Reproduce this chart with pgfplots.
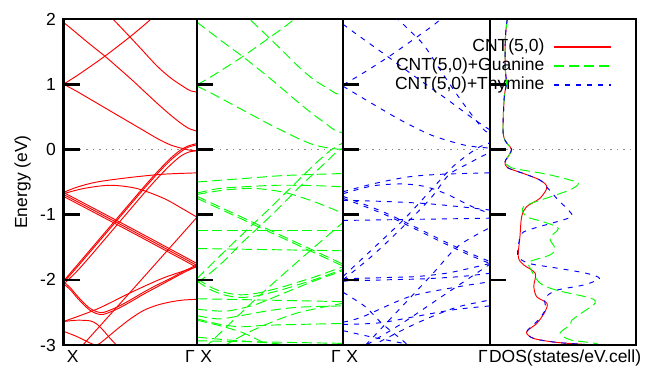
\documentclass[border=0pt]{standalone}
\usepackage{fontspec}
\setmainfont{Liberation Sans}
\usepackage{pgfplots}
\pgfplotsset{compat=1.18}
\newcommand\fs{\fontsize{17.5}{20}\selectfont}
\definecolor{zgray}{RGB}{140,140,140}
\definecolor{cred}{RGB}{255,0,0}
\definecolor{cgreen}{RGB}{0,255,0}
\definecolor{cblue}{RGB}{0,0,255}
\pgfplotsset{
  bandax/.style={scale only axis, height=326pt, anchor=south west,
    xmin=0, xmax=1, ymin=-3, ymax=2,
    axis line style={line width=2.6pt},
    ytick={-3,-2,-1,0,1,2}, ytick pos=left, tick align=inside,
    major tick length=16pt, tick style={line width=2.6pt, black},
    xtick=\empty, yticklabels={}, axis on top, clip=true},
  rb/.style={color=cred, line width=0.95pt, smooth},
  gb/.style={color=cgreen, line width=0.95pt, dash pattern=on 10pt off 5pt, smooth},
  bb/.style={color=cblue, line width=0.95pt, dash pattern=on 5pt off 6pt, smooth},
  zl/.style={color=zgray, line width=1.4pt, dash pattern=on 1.5pt off 5pt, forget plot},
}
\begin{document}
\begin{tikzpicture}
\path[use as bounding box] (0pt,0pt) rectangle (646pt,368pt);
% ---------------- Panel 1 : CNT(5,0)
\begin{axis}[bandax, at={(63.5pt,23pt)}, width=133.5pt,
  yticklabels={-3,-2,-1,0,1,2},
  yticklabel style={font=\fs, anchor=east, inner sep=0pt, xshift=-7.5pt},
  ylabel={Energy (eV)},
  ylabel style={at={(axis description cs:-0.307,0.5)}, anchor=center, font=\fs, inner sep=0pt},
  after end axis/.code={
    \node[font=\fs, inner sep=0pt, anchor=north west, xshift=3.2pt, yshift=-5pt] at (rel axis cs:0,0) {X};
    \node[font=\fs, inner sep=0pt, anchor=north east, xshift=-2pt, yshift=-5pt] at (rel axis cs:1,0) {Γ};
  }]
\addplot[zl] coordinates {(0.12,0) (1,0)};
\addplot[rb] coordinates {(0,1.0) (0.1,1.13) (0.2,1.27) (0.31,1.43) (0.4,1.57) (0.5,1.73) (0.6,1.9) (0.7,2.08) (0.8,2.27)};
\addplot[rb] coordinates {(0,1.95) (0.1,1.78) (0.2,1.61) (0.31,1.43) (0.4,1.27) (0.5,1.09) (0.6,0.9) (0.7,0.71) (0.8,0.53) (0.88,0.4) (0.94,0.32) (1,0.28)};
\addplot[rb] coordinates {(0.3,2.15) (0.37,2.0) (0.5,1.72) (0.6,1.5) (0.7,1.28) (0.8,1.1) (0.9,0.96) (0.95,0.9) (1,0.88)};
\addplot[rb] coordinates {(0,1.0) (0.1,0.89) (0.2,0.77) (0.3,0.65) (0.4,0.53) (0.5,0.41) (0.6,0.29) (0.7,0.17) (0.8,0.07) (0.88,0.02) (0.94,-0.01) (1,-0.02)};
\addplot[rb] coordinates {(0,-2.02) (0.1,-1.78) (0.2,-1.54) (0.3,-1.3) (0.4,-1.06) (0.5,-0.82) (0.6,-0.58) (0.7,-0.35) (0.8,-0.14) (0.87,-0.02) (0.93,0.05) (1,0.09)};
\addplot[rb] coordinates {(0,-2.04) (0.1,-1.81) (0.2,-1.57) (0.3,-1.33) (0.4,-1.09) (0.5,-0.85) (0.6,-0.61) (0.7,-0.38) (0.8,-0.17) (0.87,-0.05) (0.93,0.03) (1,0.07)};
\addplot[rb] coordinates {(0,-2.07) (0.1,-1.87) (0.2,-1.64) (0.3,-1.4) (0.4,-1.16) (0.5,-0.92) (0.6,-0.68) (0.7,-0.45) (0.8,-0.24) (0.88,-0.1) (0.94,-0.04) (1,-0.02)};
\addplot[rb] coordinates {(0,-0.66) (0.1,-0.58) (0.25,-0.5) (0.5,-0.43) (0.75,-0.38) (1,-0.36)};
\addplot[rb] coordinates {(0,-0.68) (0.15,-0.6) (0.35,-0.55) (0.55,-0.6) (0.75,-0.75) (0.9,-0.92) (1,-1.04)};
\addplot[rb] coordinates {(0,-0.66) (0.5,-1.2) (1,-1.75)};
\addplot[rb] coordinates {(0,-0.69) (0.5,-1.23) (1,-1.78)};
\addplot[rb] coordinates {(0,-0.72) (0.5,-1.26) (1,-1.81)};
\addplot[rb] coordinates {(0,-3.33) (0.5,-2.19) (1,-1.04)};
\addplot[rb] coordinates {(0,-2.03) (0.05,-2.12) (0.1,-2.24) (0.15,-2.35) (0.2,-2.44) (0.25,-2.49) (0.3,-2.5) (0.4,-2.42) (0.5,-2.31) (0.6,-2.19) (0.7,-2.08) (0.8,-1.98) (0.9,-1.87) (1,-1.77)};
\addplot[rb] coordinates {(0,-2.06) (0.05,-2.15) (0.1,-2.27) (0.15,-2.38) (0.2,-2.47) (0.25,-2.52) (0.3,-2.53) (0.4,-2.45) (0.5,-2.34) (0.6,-2.22) (0.7,-2.11) (0.8,-2.0) (0.9,-1.89) (1,-1.79)};
\addplot[rb] coordinates {(0,-2.64) (0.1,-2.62) (0.2,-2.63) (0.25,-2.68) (0.3,-2.78) (0.35,-2.9) (0.42,-3.05)};
\addplot[rb] coordinates {(0,-2.64) (0.25,-2.45) (0.5,-2.2) (0.75,-1.97) (1,-1.8)};
\addplot[rb] coordinates {(0,-2.79) (0.1,-2.87) (0.2,-2.97) (0.25,-3.0) (0.3,-2.93) (0.4,-2.76) (0.5,-2.6) (0.6,-2.47) (0.7,-2.39) (0.8,-2.34) (0.9,-2.31) (1,-2.3)};
\end{axis}
% ---------------- Panel 2 : Guanine
\begin{axis}[bandax, at={(197pt,23pt)}, width=146pt,
  after end axis/.code={
    \node[font=\fs, inner sep=0pt, anchor=north west, xshift=3.2pt, yshift=-5pt] at (rel axis cs:0,0) {X};
    \node[font=\fs, inner sep=0pt, anchor=north east, xshift=-2pt, yshift=-5pt] at (rel axis cs:1,0) {Γ};
  }]
\addplot[zl] coordinates {(0.11,0) (1,0)};
\addplot[gb] coordinates {(0,0.99) (0.1,1.12) (0.2,1.26) (0.31,1.42) (0.4,1.56) (0.5,1.72) (0.6,1.88) (0.69,2.04) (0.8,2.24)};
\addplot[gb] coordinates {(0,1.95) (0.1,1.78) (0.2,1.61) (0.31,1.43) (0.4,1.27) (0.5,1.09) (0.6,0.9) (0.7,0.71) (0.8,0.53) (0.88,0.4) (0.94,0.3) (1,0.25)};
\addplot[gb] coordinates {(0.3,2.15) (0.36,2.0) (0.5,1.7) (0.6,1.48) (0.7,1.26) (0.8,1.07) (0.9,0.93) (0.95,0.86) (1,0.83)};
\addplot[gb] coordinates {(0,0.97) (0.1,0.86) (0.2,0.74) (0.3,0.62) (0.4,0.5) (0.5,0.38) (0.6,0.27) (0.7,0.16) (0.8,0.07) (0.88,0.03) (0.94,0.01) (1,0.0)};
\addplot[gb] coordinates {(0,-1.98) (0.1,-1.76) (0.2,-1.54) (0.34,-1.24) (0.5,-0.9) (0.6,-0.68) (0.7,-0.46) (0.8,-0.24) (0.9,-0.04) (0.95,0.04) (1,0.1)};
\addplot[gb] coordinates {(0,-2.05) (0.1,-1.88) (0.2,-1.68) (0.3,-1.45) (0.41,-1.22) (0.5,-1.03) (0.6,-0.81) (0.7,-0.58) (0.8,-0.37) (0.9,-0.16) (0.95,-0.05) (1,0.02)};
\addplot[gb] coordinates {(0,-0.5) (0.3,-0.45) (0.6,-0.4) (1,-0.37)};
\addplot[gb] coordinates {(0,-0.67) (0.15,-0.6) (0.35,-0.57) (0.55,-0.55) (0.8,-0.555) (1,-0.575)};
\addplot[gb] coordinates {(0,-0.69) (0.2,-0.62) (0.4,-0.6) (0.6,-0.66) (0.8,-0.8) (1,-0.98)};
\addplot[gb] coordinates {(0,-0.72) (0.5,-1.24) (1,-1.76)};
\addplot[gb] coordinates {(0,-0.75) (0.5,-1.27) (1,-1.79)};
\addplot[gb] coordinates {(0,-1.24) (1,-1.24)};
\addplot[gb] coordinates {(0,-1.52) (1,-1.555)};
\addplot[gb] coordinates {(0.05,-3.05) (0.4,-2.3) (0.7,-1.7) (1,-1.12)};
\addplot[gb] coordinates {(0,-1.98) (0.1,-2.12) (0.2,-2.2) (0.3,-2.23) (0.4,-2.21) (0.5,-2.16) (0.6,-2.1) (0.7,-2.03) (0.8,-1.96) (0.9,-1.88) (1,-1.8)};
\addplot[gb] coordinates {(0,-2.02) (0.1,-2.16) (0.2,-2.24) (0.3,-2.27) (0.4,-2.25) (0.5,-2.2) (0.6,-2.14) (0.7,-2.07) (0.8,-2.0) (0.9,-1.92) (1,-1.84)};
\addplot[gb] coordinates {(0,-2.29) (1,-2.335)};
\addplot[gb] coordinates {(0,-2.45) (0.2,-2.48) (0.4,-2.38) (0.6,-2.2) (0.8,-2.02) (1,-1.86)};
\addplot[gb] coordinates {(0,-2.55) (0.15,-2.6) (0.3,-2.55) (0.5,-2.47) (0.7,-2.42) (1,-2.4)};
\addplot[gb] coordinates {(0,-2.6) (0.15,-2.68) (0.3,-2.72) (0.5,-2.695) (1,-2.67)};
\addplot[gb] coordinates {(0,-2.62) (0.15,-2.7) (0.3,-2.8) (0.4,-2.9) (0.5,-3.02)};
\addplot[gb] coordinates {(0.18,-3.02) (0.34,-2.82) (0.5,-2.66) (0.7,-2.5) (1,-2.36)};
\addplot[gb] coordinates {(0,-2.935) (1,-2.975)};
\addplot[gb] coordinates {(0,-2.88) (0.2,-2.92) (0.5,-2.97) (0.7,-3.02)};
\end{axis}
% ---------------- Panel 3 : Thymine
\begin{axis}[bandax, at={(343pt,23pt)}, width=147pt,
  after end axis/.code={
    \node[font=\fs, inner sep=0pt, anchor=north west, xshift=3.2pt, yshift=-5pt] at (rel axis cs:0,0) {X};
    \node[font=\fs, inner sep=0pt, anchor=north east, xshift=-2pt, yshift=-5pt] at (rel axis cs:1,0) {Γ};
  }]
\addplot[zl] coordinates {(0.11,0) (1,0)};
\addplot[bb] coordinates {(0,0.99) (0.1,1.12) (0.2,1.26) (0.31,1.42) (0.4,1.56) (0.5,1.72) (0.6,1.88) (0.69,2.04) (0.8,2.24)};
\addplot[bb] coordinates {(0,1.92) (0.084,1.78) (0.288,1.45) (0.5,1.1) (0.7,0.78) (0.85,0.53) (0.95,0.37) (1,0.3)};
\addplot[bb] coordinates {(0.3,2.15) (0.35,2.05) (0.45,1.83) (0.55,1.6) (0.67,1.19) (0.81,0.73) (0.95,0.32) (1,0.25)};
\addplot[bb] coordinates {(0,0.97) (0.2,0.7) (0.4,0.44) (0.6,0.22) (0.8,0.08) (0.9,0.04) (1,0.02)};
\addplot[bb] coordinates {(0,-1.95) (0.2,-1.53) (0.42,-1.06) (0.6,-0.62) (0.74,-0.28) (0.85,-0.08) (0.93,0.04) (1,0.1)};
\addplot[bb] coordinates {(0,-2.0) (0.2,-1.63) (0.42,-1.16) (0.6,-0.74) (0.72,-0.39) (0.85,-0.22) (0.95,-0.1) (1,-0.05)};
\addplot[bb] coordinates {(0,-0.65) (0.22,-0.52) (0.45,-0.42) (0.68,-0.38) (1,-0.36)};
\addplot[bb] coordinates {(0,-0.68) (0.2,-0.56) (0.4,-0.53) (0.56,-0.57) (0.7,-0.68) (0.79,-0.78) (0.9,-0.9) (1,-0.98)};
\addplot[bb] coordinates {(0,-0.78) (0.3,-0.8) (0.56,-0.83) (0.8,-0.88) (1,-0.93)};
\addplot[bb] coordinates {(0,-1.09) (1,-1.055)};
\addplot[bb] coordinates {(0,-0.72) (0.265,-0.95) (0.5,-1.2) (0.67,-1.39) (0.85,-1.58) (1,-1.72)};
\addplot[bb] coordinates {(0,-0.75) (0.265,-0.98) (0.5,-1.23) (0.67,-1.42) (0.85,-1.61) (1,-1.75)};
\addplot[bb] coordinates {(0,-1.985) (0.3,-1.965) (0.5,-1.95) (0.7,-1.9) (0.85,-1.83) (1,-1.75)};
\addplot[bb] coordinates {(0,-2.02) (0.3,-2.0) (0.55,-1.985) (0.8,-1.95) (1,-1.9)};
\addplot[bb] coordinates {(0,-3.37) (0.58,-1.98) (0.78,-1.49) (1,-1.2)};
\addplot[bb] coordinates {(0.1,-3.08) (0.4,-2.67) (0.67,-2.26) (1,-1.76)};
\addplot[bb] coordinates {(0,-2.65) (0.13,-2.57) (0.45,-2.26) (0.75,-2.12) (1,-2.03)};
\addplot[bb] coordinates {(0.25,-2.95) (0.45,-2.72) (0.62,-2.55) (0.79,-2.41) (1,-2.31)};
\addplot[bb] coordinates {(0,-2.19) (0.15,-2.41) (0.265,-2.67) (0.4,-2.92) (0.45,-3.02)};
\addplot[bb] coordinates {(0,-2.685) (0.25,-2.66) (0.5,-2.56) (0.75,-2.46) (1,-2.4)};
\addplot[bb] coordinates {(0,-2.78) (0.2,-2.88) (0.4,-2.97) (0.5,-3.02)};
\end{axis}
% ---------------- Panel 4 : DOS
\begin{axis}[bandax, at={(490pt,23pt)}, width=146pt,
  legend style={at={(axis description cs:0.86,0.945)}, anchor=north east,
    draw=none, fill=none, font=\fs, row sep=3pt, column sep=9pt,
    nodes={inner sep=0pt, text height=12.5pt, text depth=3.5pt}},
  legend cell align=right, legend plot pos=right,
  legend image code/.code={\draw[#1, line width=2pt] (0pt,0.5pt) -- (57pt,0.5pt);},
  after end axis/.code={
    \node[font=\fs, inner sep=0pt, anchor=north, yshift=-4.5pt] at (rel axis cs:0.514,0) {DOS(states/eV.cell)};
  }]
\addplot[zl] coordinates {(0.11,0) (1,0)};
\addplot[cred, line width=0.95pt, smooth] coordinates {(0.118,2.0) (0.108,1.8) (0.104,1.6) (0.103,1.4) (0.104,1.25) (0.11,1.1) (0.112,1.0) (0.1,0.85) (0.095,0.7) (0.091,0.5) (0.089,0.35) (0.09,0.25) (0.1,0.15) (0.125,0.07) (0.148,0.0) (0.13,-0.09) (0.103,-0.19) (0.12,-0.28) (0.23,-0.37) (0.342,-0.47) (0.39,-0.58) (0.342,-0.75) (0.25,-0.88) (0.217,-1.03) (0.205,-1.34) (0.194,-1.65) (0.23,-1.77) (0.31,-1.9) (0.3,-2.1) (0.32,-2.26) (0.39,-2.36) (0.377,-2.49) (0.32,-2.67) (0.25,-2.8) (0.3,-2.9) (0.457,-2.96) (0.64,-2.99) (0.72,-3.01)};
\addlegendentry{CNT(5,0)}
\addplot[cgreen, line width=0.95pt, dash pattern=on 10pt off 5pt, smooth] coordinates {(0.118,2.0) (0.108,1.8) (0.104,1.6) (0.103,1.4) (0.104,1.25) (0.11,1.1) (0.112,1.0) (0.1,0.85) (0.095,0.7) (0.091,0.5) (0.089,0.35) (0.09,0.25) (0.1,0.15) (0.125,0.07) (0.148,0.0) (0.13,-0.09) (0.103,-0.19) (0.13,-0.26) (0.18,-0.3) (0.365,-0.37) (0.5,-0.44) (0.605,-0.52) (0.548,-0.62) (0.41,-0.73) (0.23,-0.88) (0.25,-1.03) (0.365,-1.11) (0.468,-1.21) (0.41,-1.36) (0.445,-1.52) (0.41,-1.62) (0.274,-1.72) (0.27,-1.8) (0.342,-2.05) (0.457,-2.16) (0.688,-2.28) (0.72,-2.36) (0.64,-2.49) (0.56,-2.62) (0.55,-2.69) (0.48,-2.82) (0.55,-2.92) (0.71,-2.97) (0.76,-3.01)};
\addlegendentry{CNT(5,0)+Guanine}
\addplot[cblue, line width=0.95pt, dash pattern=on 5pt off 6pt, smooth] coordinates {(0.118,2.0) (0.108,1.8) (0.104,1.6) (0.103,1.4) (0.104,1.25) (0.11,1.1) (0.112,1.0) (0.1,0.85) (0.095,0.7) (0.091,0.5) (0.089,0.35) (0.09,0.25) (0.1,0.15) (0.125,0.07) (0.148,0.0) (0.13,-0.09) (0.103,-0.19) (0.12,-0.28) (0.23,-0.37) (0.342,-0.47) (0.39,-0.58) (0.43,-0.68) (0.468,-0.78) (0.537,-0.93) (0.56,-1.03) (0.457,-1.11) (0.3,-1.21) (0.217,-1.29) (0.194,-1.49) (0.194,-1.65) (0.27,-1.75) (0.457,-1.82) (0.66,-1.9) (0.75,-1.98) (0.64,-2.08) (0.457,-2.16) (0.377,-2.28) (0.38,-2.45) (0.33,-2.62) (0.25,-2.8) (0.3,-2.9) (0.457,-2.96) (0.64,-2.99) (0.72,-3.01)};
\addlegendentry{CNT(5,0)+Thymine}
\end{axis}
\end{tikzpicture}
\end{document}
